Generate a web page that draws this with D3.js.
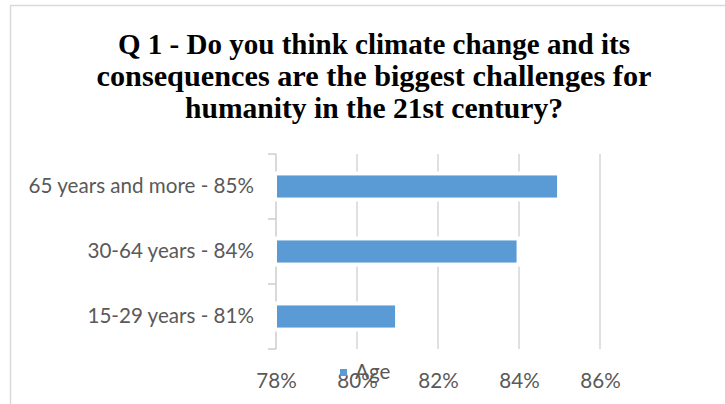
<!DOCTYPE html>
<html>
<head>
<meta charset="utf-8">
<script src="https://cdn.jsdelivr.net/npm/d3@7"></script>
<style>
  html, body { margin: 0; padding: 0; background: #fff; }
  svg { display: block; }
</style>
</head>
<body>
<div id="chart"></div>
<script>
// ---- data ----
const titleLines = [
  "Q 1 - Do you think climate change and its",
  "consequences are the biggest challenges for",
  "humanity in the 21st century?"
];
const categories = ["65 years and more - 85%", "30-64 years - 84%", "15-29 years - 81%"];
const values = [84.94, 83.94, 80.94];
const xTicks = [78, 80, 82, 84, 86];
const seriesName = "Age";

// ---- layout ----
const W = 725, H = 404;
const svg = d3.select("#chart").append("svg").attr("width", W).attr("height", H);

svg.append("rect").attr("width", W).attr("height", H).attr("fill", "#fff");
// chart area border
svg.append("rect")
  .attr("x", 10.5).attr("y", 5.5).attr("width", W + 20).attr("height", H + 20)
  .attr("fill", "none").attr("stroke", "#d9d9d9").attr("stroke-width", 1.5);

// title
const titleWidths = [512, 555, 378];
const title = svg.append("g");
titleLines.forEach((t, i) => {
  title.append("text")
    .attr("x", 374).attr("y", 53.5 + i * 32)
    .attr("text-anchor", "middle")
    .attr("font-family", "'Liberation Serif', 'DejaVu Serif', serif")
    .attr("font-weight", "bold")
    .attr("font-size", 29.5)
    .attr("fill", "#000")
    .attr("textLength", titleWidths[i])
    .attr("lengthAdjust", "spacingAndGlyphs")
    .text(t);
});

const x = d3.scaleLinear().domain([78, 86]).range([276, 600]);
const y = d3.scaleBand().domain(categories).range([154, 349]).paddingInner(0.66).paddingOuter(0.33);

const textColor = "#595959";
const labelFont = "Lato, 'Open Sans', sans-serif";
const labelSize = 20.6;

// gridlines
svg.append("g")
  .selectAll("line")
  .data(xTicks.slice(1))
  .join("line")
  .attr("x1", d => x(d)).attr("x2", d => x(d))
  .attr("y1", 154).attr("y2", 349)
  .attr("stroke", "#d9d9d9").attr("stroke-width", 1.6);

// category axis (left)
const yAxis = d3.axisLeft(y).tickSize(0).tickPadding(22);
const gy = svg.append("g").attr("transform", `translate(${x(78)},0)`).call(yAxis);
gy.select(".domain").remove();
gy.selectAll("text")
  .attr("font-family", labelFont).attr("font-size", labelSize).attr("fill", textColor);
// axis line and boundary ticks
const axisG = svg.append("g");
axisG.append("line")
  .attr("x1", x(78)).attr("x2", x(78)).attr("y1", 154).attr("y2", 349)
  .attr("stroke", "#d0d0d0").attr("stroke-width", 1.6);
const bounds = [154].concat(categories.map(c => y(c) + y.bandwidth() + y.step() * y.paddingInner() / 2));
axisG.selectAll("line.b").data(bounds).join("line").attr("class", "b")
  .attr("x1", x(78) - 8).attr("x2", x(78)).attr("y1", d => d).attr("y2", d => d)
  .attr("stroke", "#d0d0d0").attr("stroke-width", 1.6);

// bars
svg.append("g")
  .selectAll("rect")
  .data(categories.map((c, i) => ({ c, v: values[i] })))
  .join("rect")
  .attr("x", x(78) + 1)
  .attr("y", d => y(d.c))
  .attr("width", d => x(d.v) - x(78) - 1)
  .attr("height", y.bandwidth())
  .attr("fill", "#5b9bd5")
  .attr("stroke", "#fff").attr("stroke-width", 8)
  .attr("paint-order", "stroke");

// x axis labels
const xAxis = d3.axisBottom(x).tickValues(xTicks).tickFormat(d => d + "%").tickSize(0).tickPadding(10);
const gx = svg.append("g").attr("transform", "translate(0,363)").call(xAxis);
gx.select(".domain").remove();
gx.selectAll("text")
  .attr("font-family", labelFont).attr("font-size", labelSize).attr("fill", textColor);

// legend
const lg = svg.append("g");
lg.append("rect").attr("x", 340).attr("y", 369).attr("width", 7).attr("height", 7).attr("fill", "#5b9bd5");
lg.append("text").attr("x", 355).attr("y", 378.5)
  .attr("font-family", labelFont).attr("font-size", labelSize).attr("fill", textColor)
  .text(seriesName);
</script>
</body>
</html>
